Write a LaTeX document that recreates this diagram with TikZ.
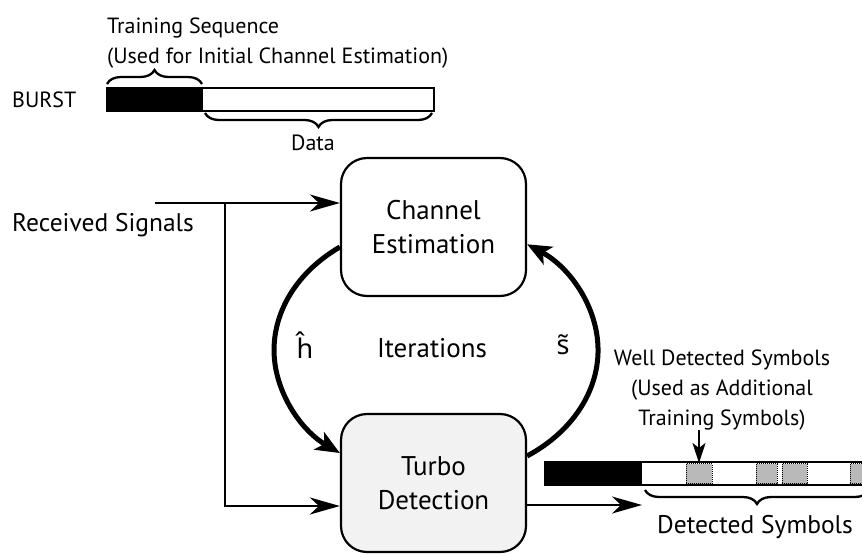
\documentclass[tikz,border=0pt]{standalone}
\usepackage{fontspec}
\setmainfont{PT Sans}
\newfontfamily\accfont{Noto Sans}
\usetikzlibrary{arrows.meta,decorations.pathreplacing,calc}

\begin{document}
\begin{tikzpicture}[x=1pt,y=-1pt,
  box/.style={draw, line width=2.2pt, rounded corners=26pt,
    minimum width=185pt, minimum height=138pt, align=center,
    font=\fontsize{27}{34}\selectfont},
  big/.style={inner sep=0pt, font=\fontsize{27}{34}\selectfont},
  mid/.style={inner sep=0pt, font=\fontsize{25.5}{30}\selectfont},
  small/.style={inner sep=0pt, align=center, font=\fontsize{22}{30}\selectfont},
  feed/.style={line width=2pt, -{Stealth[length=30pt,width=17pt,inset=9pt]}},
  loop/.style={line width=5pt, -{Stealth[length=24pt,width=20pt,inset=6pt]}},
  pointer/.style={line width=2pt, -{Stealth[length=20pt,width=13pt,inset=5pt]}},
  brace deco/.style={decorate, line width=2.3pt,
    decoration={brace, amplitude=14pt}},
  bar/.style={line width=2pt},
  symblk/.style={fill=gray!55, draw=black, densely dotted, line width=1pt,
    inner sep=0pt, minimum height=20pt},
]
\useasboundingbox (0,0) rectangle (862,554);

% --- burst structure at the top ---
\node[small, anchor=west] (ts) at (107,28) {Training Sequence};
\node[small, anchor=west] (tsu) at (107,58) {(Used for Initial Channel Estimation)};
\node[small, anchor=west] (burst) at (12,100) {BURST};
\draw[bar, fill=black] (107,88) rectangle (202,111);
\draw[bar, fill=white] (202,88) rectangle (434,111);
\draw[brace deco] (107,84) -- (202,84);
\draw[brace deco, decoration={mirror}] (205,113) -- (432,113);
\node[small] (data) at (313,143) {Data};

% --- receiver loop ---
\node[box] (chan) at (433.5,227) {Channel\\Estimation};
\node[box, fill=black!5] (turbo) at (433.5,483) {Turbo\\Detection};

\node[mid, anchor=west] (rx) at (12,225) {Received Signals};
\coordinate (rxs) at (155,203);
\coordinate (split) at (225,203);
\coordinate (tin) at ($(turbo.west)+(0,23)$);
\draw[feed] (rxs) -- (rxs -| chan.west);
\draw[feed] (split) |- (tin);

\draw[loop] ($(chan.west)+(0,20)$)
  arc[start angle=233.6, end angle=126.4, x radius=162, y radius=128];
\draw[loop] ($(turbo.east)+(0,-27)$)
  arc[start angle=55.8, end angle=-55.8, x radius=162, y radius=128];

\node[big] (iter) at (432,348) {Iterations};
\node[big] (hh) at (305,345) {\accfont ĥ};
\node[big] (st) at (563,345) {\accfont s̃};

% --- detected burst ---
\begin{scope}
\clip (0,0) rectangle (862,554);
\draw[bar, fill=black] (545,462) rectangle (642,485);
\draw[bar, fill=white] (642,462) -- (870,462) -- (870,485) -- (642,485);
\node[symblk, minimum width=26pt] (s1) at (699,473.5) {};
\node[symblk, minimum width=21pt] (s2) at (766.5,473.5) {};
\node[symblk, minimum width=25pt] (s3) at (794.5,473.5) {};
\node[symblk, minimum width=26pt] (s4) at (863,473.5) {};
\draw[brace deco, decoration={mirror}] (645,490) -- (869,490);
\end{scope}
\coordinate (out) at (642,505);
\draw[feed] ($(turbo.east)+(0,22)$) -- (out);
\node[mid] (det) at (755,527) {Detected Symbols};

\node[small] (well) at (722,390) {Well Detected Symbols\\(Used as Additional\\Training Symbols)};
\draw[pointer] (well.south -| s1.north) -- (s1.north);
\end{tikzpicture}
\end{document}
